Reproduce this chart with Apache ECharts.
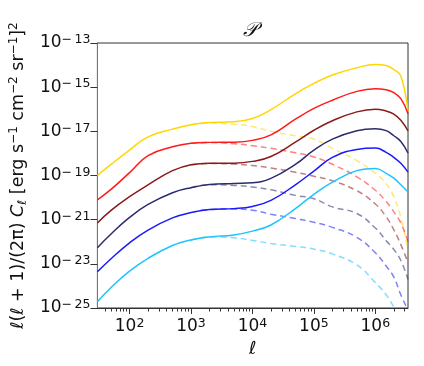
<!DOCTYPE html>
<html>
<head>
<meta charset="utf-8">
<script src="https://cdn.jsdelivr.net/npm/echarts@6/dist/echarts.min.js"></script>
<style>
  html, body { margin: 0; padding: 0; background: #fff; }
  #main { width: 424px; height: 366px; }
</style>
</head>
<body>
<div id="main"></div>
<script>
// multipoles (ell) and log10 of l(l+1)/(2pi) C_l
var ellSolid = [30, 50, 100, 200, 500, 1000, 2000, 5000, 1e4, 2e4, 5e4, 1e5, 2e5, 5e5, 1e6, 1.5e6, 2e6, 2.6e6, 3.4e6];
var ellDashed = [1000, 2000, 5000, 1e4, 2e4, 5e4, 1e5, 2e5, 5e5, 1e6, 1.5e6, 2e6, 2.6e6, 3.4e6];

var goldSolid = [-19.0, -18.5, -17.85, -17.25, -16.9, -16.7, -16.6, -16.57, -16.42, -16.02, -15.3, -14.83, -14.45, -14.12, -13.97, -14.02, -14.2, -14.5, -16.1];
var redSolid = [-20.1, -19.63, -18.87, -18.1, -17.7, -17.54, -17.5, -17.49, -17.41, -17.16, -16.45, -15.96, -15.59, -15.19, -15.07, -15.12, -15.25, -15.52, -16.2];
var maroonSolid = [-21.15, -20.58, -19.96, -19.42, -18.78, -18.51, -18.44, -18.44, -18.36, -18.14, -17.49, -16.95, -16.52, -16.12, -16.0, -16.08, -16.22, -16.5, -16.98];
var navySolid = [-22.27, -21.65, -20.9, -20.31, -19.78, -19.55, -19.41, -19.36, -19.33, -19.13, -18.5, -17.85, -17.35, -16.97, -16.88, -16.97, -17.2, -17.46, -17.98];
var blueSolid = [-23.36, -22.77, -22.05, -21.47, -20.92, -20.68, -20.54, -20.5, -20.4, -20.13, -19.42, -18.8, -18.18, -17.82, -17.76, -17.95, -18.18, -18.45, -18.85];
var cyanSolid = [-24.72, -24.07, -23.33, -22.75, -22.17, -21.92, -21.78, -21.69, -21.52, -21.24, -20.5, -19.85, -19.3, -18.78, -18.68, -18.9, -19.12, -19.42, -19.75];

var goldDashed = [-16.7, -16.62, -16.68, -16.78, -17.0, -17.2, -17.35, -17.77, -18.33, -18.9, -19.37, -19.97, -20.9, -22.4];
var redDashed = [-17.54, -17.51, -17.56, -17.65, -17.77, -17.97, -18.16, -18.49, -19.06, -19.67, -20.18, -20.65, -21.15, -22.0];
var maroonDashed = [-18.51, -18.46, -18.48, -18.55, -18.66, -18.85, -19.03, -19.24, -19.69, -20.29, -20.87, -21.46, -22.13, -22.95];
var navyDashed = [-19.55, -19.42, -19.45, -19.52, -19.65, -19.9, -20.05, -20.42, -20.72, -21.38, -21.95, -22.35, -22.85, -23.7];
var blueDashed = [-20.68, -20.54, -20.52, -20.57, -20.75, -20.95, -21.12, -21.35, -21.8, -22.5, -23.1, -23.6, -24.4, -25.1];
var cyanDashed = [-21.92, -21.78, -21.82, -21.94, -22.08, -22.21, -22.33, -22.55, -23.05, -23.85, -24.4, -24.95, -25.45];

var xMajor = [2, 3, 4, 5, 6];          // log10(ell) of labelled ticks
var yMin = -25, yMax = -13, yStep = 2;  // log10 range of the y axis
var ellMin = 30, ellMax = 3.4e6;

var colors = ['#ffd700', '#ff1a1a', '#8b1a1a', '#2b2b6e', '#1a1aff', '#1ec3ff'];
var solids = [goldSolid, redSolid, maroonSolid, navySolid, blueSolid, cyanSolid];
var dashes = [goldDashed, redDashed, maroonDashed, navyDashed, blueDashed, cyanDashed];

function pairs(ell, vals) {
    return vals.map(function (v, i) { return [Math.log10(ell[i]), v]; });
}

// minor ticks at 2..9 x 10^n
var xMinor = [];
for (var n = 1; n <= 6; n++) {
    for (var k = 2; k <= 9; k++) {
        var e = k * Math.pow(10, n);
        if (e > ellMin && e < ellMax) xMinor.push(Math.log10(e));
    }
}

function powLabel(v) {
    var s = v < 0 ? '\u2212\u2009' + (-v) : '' + v;
    return '{b|10}{s|' + s + '}';
}

var font = 'DejaVu Sans';
var labelRich = {
    b: { fontFamily: font, fontSize: 17, lineHeight: 19, color: '#111' },
    s: { fontFamily: font, fontSize: 12.5, lineHeight: 12, verticalAlign: 'top', color: '#111' }
};

var series = [];
dashes.forEach(function (d, i) {
    series.push({
        type: 'line',
        data: pairs(ellDashed, d),
        showSymbol: false,
        smooth: 0.45,
        z: 1,
        lineStyle: { color: colors[i], width: 1.5, type: [6, 4], opacity: 0.55 }
    });
});
solids.forEach(function (d, i) {
    series.push({
        type: 'line',
        data: pairs(ellSolid, d),
        showSymbol: false,
        smooth: 0.45,
        z: 2,
        lineStyle: { color: colors[i], width: 1.5 }
    });
});

var myChart = echarts.init(document.getElementById('main'));
var option = {
    animation: false,
    backgroundColor: '#fff',
    grid: { left: 91, right: 16, top: 43, bottom: 58, show: true, borderColor: '#333', borderWidth: 1 },
    graphic: [{
        type: 'text',
        x: 250, y: 31,
        style: { text: '\ud835\udcab', fontFamily: 'DejaVu Serif', fontSize: 20, fontStyle: 'italic',
                 align: 'center', verticalAlign: 'middle', textAlign: 'center', textVerticalAlign: 'middle', fill: '#111' }
    }],
    xAxis: [{
        type: 'value',
        min: Math.log10(ellMin),
        max: Math.log10(ellMax),
        position: 'bottom',
        splitLine: { show: false },
        axisLine: { lineStyle: { color: '#333', width: 1 } },
        axisTick: { length: 6, customValues: xMajor, lineStyle: { color: '#333' } },
        axisLabel: { customValues: xMajor, margin: 9, formatter: powLabel, rich: labelRich },
        name: '\u2113',
        nameLocation: 'middle',
        nameGap: 30,
        nameTextStyle: { fontFamily: font, fontSize: 18, fontStyle: 'italic', color: '#111' }
    }, {
        type: 'value',
        min: Math.log10(ellMin),
        max: Math.log10(ellMax),
        position: 'bottom',
        splitLine: { show: false },
        axisLine: { show: false },
        axisTick: { length: 3.5, customValues: xMinor, lineStyle: { color: '#333' } },
        axisLabel: { show: false }
    }],
    yAxis: {
        type: 'value',
        min: yMin,
        max: yMax,
        interval: yStep,
        splitLine: { show: false },
        axisLine: { lineStyle: { color: '#777', width: 1 } },
        axisTick: { length: 7, lineStyle: { color: '#333' } },
        axisLabel: { margin: 7, formatter: powLabel, rich: labelRich },
        name: '{i|\u2113}{r|(}{i|\u2113}{r| + 1)/(2\u03c0) }{i|C}{sub|\u2113}{r| [erg s}{sup|\u22121}{r| cm}{sup|\u22122}{r| sr}{sup|\u22121}{r|]}{sup|2}',
        nameLocation: 'middle',
        nameRotate: 90,
        nameGap: 65,
        nameTextStyle: {
            rich: {
                r: { fontFamily: font, fontSize: 17.5, lineHeight: 21, color: '#111' },
                i: { fontFamily: font, fontSize: 17.5, lineHeight: 21, fontStyle: 'italic', color: '#111' },
                sup: { fontFamily: font, fontSize: 12, lineHeight: 12, verticalAlign: 'top', color: '#111' },
                sub: { fontFamily: font, fontSize: 12, lineHeight: 12, verticalAlign: 'bottom', fontStyle: 'italic', color: '#111' }
            }
        }
    },
    series: series
};
option && myChart.setOption(option);
</script>
</body>
</html>
